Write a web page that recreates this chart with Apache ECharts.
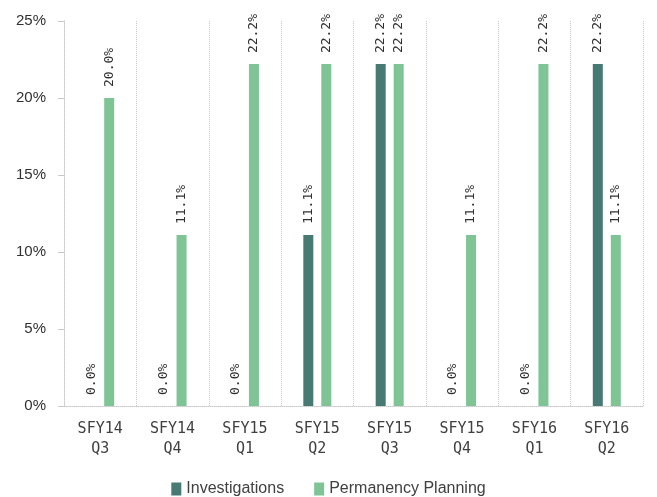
<!DOCTYPE html>
<html><head><meta charset="utf-8">
<script src="https://cdn.jsdelivr.net/npm/echarts@6/dist/echarts.min.js"></script>
<style>html,body{margin:0;padding:0;background:#fff}#c{width:657px;height:497px}</style>
</head><body><div id="c"></div>
<script>
const categories = ['SFY14\nQ3','SFY14\nQ4','SFY15\nQ1','SFY15\nQ2','SFY15\nQ3','SFY15\nQ4','SFY16\nQ1','SFY16\nQ2'];
const investigations = [0.0, 0.0, 0.0, 11.1, 22.2, 0.0, 0.0, 22.2];
const permanencyPlanning = [20.0, 11.1, 22.2, 22.2, 22.2, 11.1, 22.2, 11.1];
const yTicks = [0, 5, 10, 15, 20, 25];

const chart = echarts.init(document.getElementById('c'));
const lbl = {
  show: true, position: 'top', rotate: 90, align: 'left', verticalAlign: 'middle',
  distance: 11, fontFamily: 'DejaVu Sans Mono', fontSize: 13, color: '#303030',
  formatter: p => p.value.toFixed(1) + '%'
};
chart.setOption({
  animation: false,
  grid: {left: 64, right: 14, top: 21, bottom: 91},
  legend: {
    bottom: -5, left: 'center', itemWidth: 10, itemHeight: 13, itemGap: 30, icon: 'rect',
    textStyle: {fontFamily: 'Liberation Sans', fontSize: 16, color: '#404040'},
    data: ['Investigations', 'Permanency Planning']
  },
  xAxis: {
    type: 'category', data: categories,
    axisLine: {lineStyle: {color: '#c8c8c8', type: 'dotted'}},
    axisTick: {show: false},
    axisLabel: {fontFamily: 'DejaVu Sans Mono', fontSize: 15, color: '#404040', lineHeight: 20, margin: 13},
    splitLine: {show: true, lineStyle: {color: '#c8c8c8', type: 'dotted'}}
  },
  yAxis: {
    type: 'value', min: yTicks[0], max: yTicks[yTicks.length-1], interval: 5,
    axisLine: {show: true, lineStyle: {color: '#c8c8c8', type: 'dotted'}},
    axisTick: {show: true, length: 6, lineStyle: {color: '#c8c8c8'}},
    axisLabel: {formatter: '{value}%', fontFamily: 'Liberation Sans', fontSize: 15, color: '#303030', margin: 18},
    splitLine: {show: false}
  },
  series: [
    {name: 'Investigations', type: 'bar', data: investigations, barWidth: 10, barGap: '80%',
     itemStyle: {color: '#477a72'}, label: lbl},
    {name: 'Permanency Planning', type: 'bar', data: permanencyPlanning, barWidth: 10,
     itemStyle: {color: '#7ec495'}, label: lbl}
  ]
});
</script></body></html>
